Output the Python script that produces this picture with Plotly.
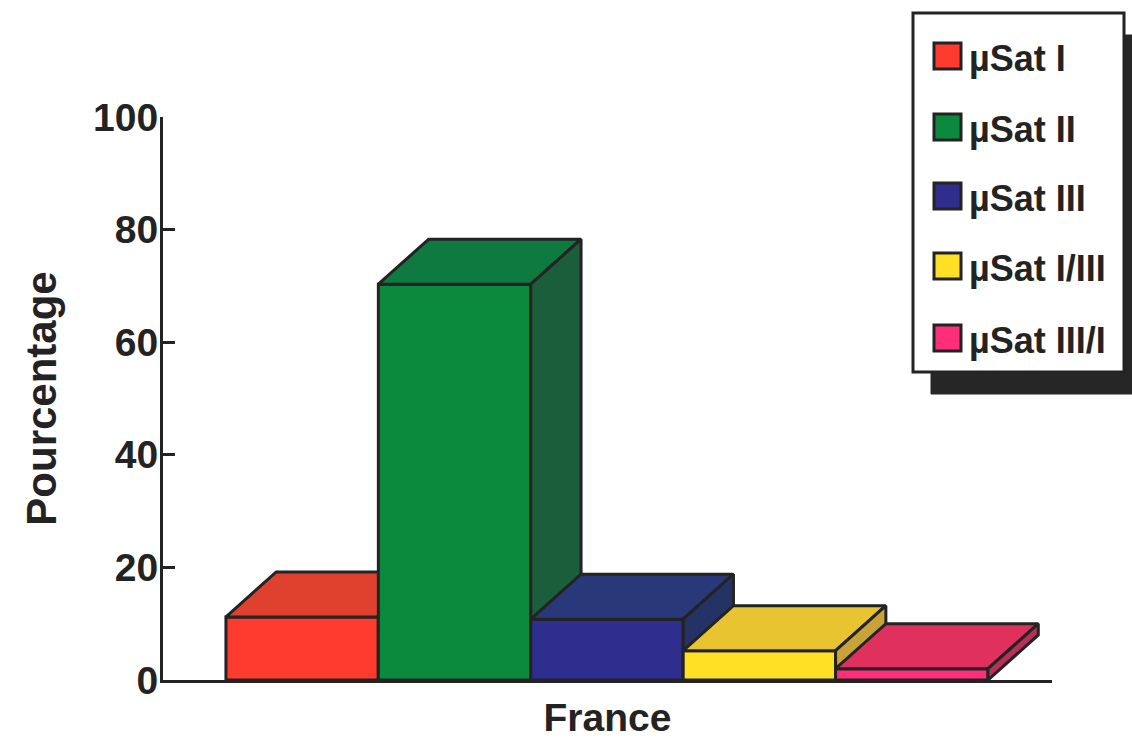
import plotly.graph_objects as go

# Data
categories = ["µSat I", "µSat II", "µSat III", "µSat I/III", "µSat III/I"]
values = [11.2, 70.3, 10.8, 5.2, 2.0]
front_colors = ["#FF3A2E", "#0B8A3E", "#2E2E8E", "#FFE024", "#FF2E78"]
top_colors = ["#E0412F", "#0E7A40", "#283878", "#E8C430", "#E0305E"]
side_colors = ["#C0392B", "#1A5E3C", "#253266", "#C8A438", "#B83058"]
y_ticks = [0, 20, 40, 60, 80, 100]
group_label = "France"

# Pseudo-3D geometry (data units)
BAR_W = 1.0
DEPTH_X = 0.33
DEPTH_Y = 8.0
X_RANGE = [-0.413, 5.42]
INK = "#232323"
FONT = "Liberation Sans, Arial, sans-serif"

fig = go.Figure()


def face(xs, ys, color, name):
    fig.add_trace(go.Scatter(
        x=xs + [xs[0]], y=ys + [ys[0]], mode="lines", fill="toself",
        fillcolor=color, line=dict(color=INK, width=3),
        hoverinfo="skip", showlegend=False, name=name,
    ))


# Painter's order: left to right, so later bars cover earlier tops/sides
for i, (cat, v) in enumerate(zip(categories, values)):
    x0, x1 = i * BAR_W, (i + 1) * BAR_W
    face([x0, x1, x1, x0], [0, 0, v, v], front_colors[i], cat)
    face([x0, x1, x1 + DEPTH_X, x0 + DEPTH_X],
         [v, v, v + DEPTH_Y, v + DEPTH_Y], top_colors[i], cat)
    face([x1, x1 + DEPTH_X, x1 + DEPTH_X, x1],
         [0, DEPTH_Y, v + DEPTH_Y, v], side_colors[i], cat)

# Page and plot-area geometry in pixels
W, H = 1132, 739
L, R, T, B = 163, 80, 117, 59
PW, PH = W - L - R, H - T - B


def px(x):
    return (x - L) / PW


def py(y):
    return (H - B - y) / PH


# Legend box with drop shadow, built from shapes and annotations
box_x0, box_x1, box_y0, box_y1 = 913, 1124, 13, 372
shadow_dx, shadow_dy = 18, 22
fig.add_shape(type="rect", xref="paper", yref="paper",
              x0=px(box_x0 + shadow_dx), x1=px(box_x1 + shadow_dx),
              y0=py(box_y1 + shadow_dy), y1=py(box_y0 + shadow_dy),
              fillcolor="#262626", line=dict(color="#262626", width=1),
              layer="above")
fig.add_shape(type="rect", xref="paper", yref="paper",
              x0=px(box_x0), x1=px(box_x1), y0=py(box_y1), y1=py(box_y0),
              fillcolor="white", line=dict(color=INK, width=3),
              layer="above")

row_y = [56, 127, 196, 266, 338]
for i, cat in enumerate(categories):
    cy = row_y[i]
    fig.add_shape(type="rect", xref="paper", yref="paper",
                  x0=px(934), x1=px(961), y0=py(cy + 13), y1=py(cy - 13),
                  fillcolor=front_colors[i], line=dict(color=INK, width=3),
                  layer="above")
    fig.add_annotation(xref="paper", yref="paper", x=px(967), y=py(cy + 2),
                       text=f"<b>{cat}</b>", showarrow=False,
                       xanchor="left", yanchor="middle",
                       font=dict(family=FONT, size=36, color=INK))

fig.update_layout(
    width=W, height=H,
    margin=dict(l=L, r=R, t=T, b=B, pad=0),
    paper_bgcolor="white", plot_bgcolor="white",
    showlegend=False,
    font=dict(family=FONT, color=INK),
    xaxis=dict(
        range=X_RANGE, showgrid=False, zeroline=False,
        showline=True, linecolor=INK, linewidth=3,
        tickmode="array", tickvals=[X_RANGE[1] - 0.005], ticktext=[""],
        ticks="inside", ticklen=11, tickwidth=3, tickcolor=INK,
        title=dict(text=f"<b>{group_label}</b>", standoff=20,
                   font=dict(family=FONT, size=39, color=INK)),
        fixedrange=True,
    ),
    yaxis=dict(
        range=[0, 100], showgrid=False, zeroline=False,
        showline=True, linecolor=INK, linewidth=3,
        tickmode="array", tickvals=y_ticks,
        ticktext=[f"<b>{t}</b>" for t in y_ticks],
        ticks="inside", ticklen=12, tickwidth=3, tickcolor=INK,
        ticklabelstandoff=-6,
        tickfont=dict(family=FONT, size=39, color=INK),
        title=dict(text="<b>Pourcentage</b>", standoff=24,
                   font=dict(family=FONT, size=42, color=INK)),
        fixedrange=True,
    ),
)

fig.write_html("out.html")
